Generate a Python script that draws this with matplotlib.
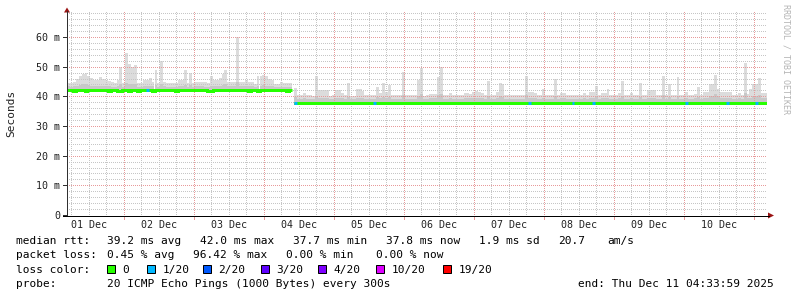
import numpy as np
import matplotlib
matplotlib.use("Agg")
import matplotlib.pyplot as plt
from matplotlib.patches import Polygon, Rectangle
from matplotlib.lines import Line2D
from matplotlib.colors import to_rgba

W, H = 797, 297
nan = float("nan")

# ---------------- data: hourly bins since Mon Dec 01 04:33:59 (ms) ----------------
smoke_top = [
    44.5, 44.5, 45.0, 46.0, 46.7, 47.5, 47.8, 47.0, 46.2, 45.6,
    45.6, 46.5, 46.0, 45.6, 45.2, 45.0, 44.5, 45.6, 50.0, 44.5,
    54.6, 51.0, 50.0, 50.6, 44.5, 44.5, 45.6, 45.6, 46.2, 45.0,
    49.0, 44.5, 51.8, 45.0, 44.5, 44.5, 44.5, 44.5, 45.6, 45.6,
    49.0, 44.5, 47.8, 44.5, 45.0, 45.0, 45.0, 45.0, 44.5, 46.7,
    45.6, 45.6, 46.2, 47.5, 49.0, 45.0, 45.0, 45.0, 60.0, 45.0,
    45.0, 45.6, 45.0, 45.0, 44.0, 46.7, 46.7, 47.2, 46.7, 46.0,
    45.6, 44.0, 44.0, 45.0, 44.5, 44.5, 44.5, nan,
    42.8, 40.4, 40.4, 41.2, 40.5, 40.5, 40.2, 46.9, 42.3, 42.3,
    42.3, 42.1, 40.2, 40.4, 42.3, 42.3, 41.2, 40.4, 44.4, 40.0,
    40.2, 42.5, 42.5, 41.8, 40.3, 40.3, 40.5, 40.6, 43.3, 41.2,
    44.4, 41.5, 43.8, 40.4, 40.6, 40.4, 40.3, 48.3, 40.3, 40.3,
    40.4, 40.4, 45.5, 49.4, 40.2, 40.5, 40.8, 40.8, 40.8, 46.6,
    49.8, 40.3, 40.3, 41.2, 40.3, 40.3, 40.3, 40.3, 41.0, 41.2,
    40.8, 41.5, 41.9, 41.3, 41.2, 40.4, 45.3, 40.4, 40.4, 41.6,
    44.4, 44.0, 40.4, 40.4, 40.4, 40.6, 40.4, 40.4, 40.5, 46.9,
    41.6, 41.6, 41.2, 40.6, 40.4, 42.6, 40.5, 40.3, 40.5, 46.0,
    40.4, 41.2, 41.2, 40.4, 40.4, 40.4, 40.4, 40.4, 40.5, 41.2,
    40.4, 41.6, 41.6, 43.5, 40.5, 41.0, 41.0, 42.4, 40.4, 40.4,
    40.4, 41.2, 45.2, 40.6, 40.6, 41.2, 40.4, 40.4, 44.6, 40.6,
    40.5, 42.1, 42.1, 42.1, 40.5, 40.5, 47.0, 40.5, 44.2, 40.4,
    40.5, 46.6, 40.3, 40.4, 41.6, 40.5, 40.4, 40.8, 43.3, 40.5,
    41.6, 41.6, 44.2, 44.2, 47.2, 42.4, 41.6, 41.6, 41.6, 41.6,
    40.5, 40.5, 41.0, 40.5, 51.3, 40.8, 42.4, 44.0, 44.0, 46.2,
    41.0, 41.0,
]

smoke_mid = [
    43.4, 43.3, 43.5, 43.6, 43.8, 44.0, 44.0, 43.8, 43.6, 43.5,
    43.5, 43.6, 43.5, 43.4, 43.4, 43.3, 43.2, 43.4, 44.2, 43.3,
    44.6, 44.2, 44.0, 44.0, 43.3, 43.2, 43.4, 43.5, 43.6, 43.4,
    43.8, 43.2, 44.0, 43.4, 43.2, 43.2, 43.2, 43.2, 43.4, 43.5,
    43.8, 43.2, 43.8, 43.3, 43.4, 43.4, 43.4, 43.3, 43.2, 43.6,
    43.5, 43.5, 43.6, 43.8, 44.0, 43.4, 43.4, 43.4, 44.8, 43.4,
    43.4, 43.5, 43.4, 43.4, 43.2, 43.6, 43.6, 43.7, 43.6, 43.5,
    43.4, 43.2, 43.2, 43.3, 43.2, 43.2, 43.2, nan,
    39.8, 39.2, 39.2, 39.4, 39.2, 39.2, 39.1, 40.2, 39.6, 39.6,
    39.6, 39.5, 39.1, 39.2, 39.6, 39.6, 39.3, 39.2, 39.9, 39.0,
    39.1, 39.6, 39.6, 39.4, 39.1, 39.1, 39.2, 39.2, 39.8, 39.3,
    39.9, 39.4, 39.8, 39.2, 39.2, 39.2, 39.1, 40.6, 39.1, 39.1,
    39.2, 39.2, 40.2, 40.8, 39.1, 39.2, 39.3, 39.3, 39.3, 40.4,
    40.8, 39.1, 39.1, 39.3, 39.1, 39.1, 39.1, 39.1, 39.3, 39.4,
    39.3, 39.5, 39.6, 39.4, 39.3, 39.2, 40.0, 39.2, 39.2, 39.5,
    40.0, 39.9, 39.2, 39.2, 39.2, 39.2, 39.2, 39.2, 39.2, 40.4,
    39.5, 39.5, 39.3, 39.2, 39.2, 39.6, 39.2, 39.1, 39.2, 40.2,
    39.2, 39.3, 39.3, 39.2, 39.2, 39.2, 39.2, 39.2, 39.2, 39.3,
    39.2, 39.5, 39.5, 39.8, 39.2, 39.3, 39.3, 39.6, 39.2, 39.2,
    39.2, 39.3, 40.0, 39.2, 39.2, 39.3, 39.2, 39.2, 39.9, 39.2,
    39.2, 39.6, 39.6, 39.6, 39.2, 39.2, 40.4, 39.2, 39.9, 39.2,
    39.2, 40.2, 39.1, 39.2, 39.5, 39.2, 39.2, 39.3, 39.8, 39.2,
    39.5, 39.5, 40.0, 40.0, 40.8, 40.0, 39.6, 39.6, 39.6, 39.6,
    39.2, 39.2, 39.3, 39.2, 41.0, 39.3, 39.6, 40.0, 40.2, 40.6,
    39.3, 39.3,
]

smoke_low = [
    41.3, 41.3, 41.3, 41.3, 41.3, 41.3, 41.3, 41.3, 41.3, 41.3,
    41.3, 41.3, 41.3, 41.3, 41.3, 41.3, 41.3, 41.3, 41.2, 41.3,
    41.3, 41.2, 41.3, 41.3, 41.2, 41.3, 41.3, 41.3, 41.3, 41.3,
    41.3, 41.3, 41.3, 41.3, 41.3, 41.3, 41.3, 41.3, 41.3, 41.3,
    41.3, 41.3, 41.3, 41.3, 41.3, 41.3, 41.3, 41.3, 41.2, 41.3,
    41.3, 41.3, 41.3, 41.3, 41.3, 41.3, 41.3, 41.3, 41.3, 41.3,
    41.3, 41.3, 41.3, 41.3, 41.3, 41.2, 41.3, 41.3, 41.3, 41.3,
    41.3, 41.3, 41.3, 41.3, 41.3, 41.2, 41.3, nan,
    37.2, 37.1, 37.1, 37.1, 37.2, 37.2, 37.1, 37.2, 37.2, 37.2,
    37.2, 37.2, 37.2, 37.2, 37.2, 37.2, 37.2, 37.2, 37.3, 37.3,
    37.3, 37.2, 37.2, 37.2, 37.2, 37.2, 37.2, 37.2, 37.2, 37.2,
    37.3, 37.2, 37.2, 37.2, 37.3, 37.2, 37.2, 37.2, 37.2, 37.2,
    37.2, 37.2, 37.2, 37.1, 37.2, 37.2, 37.2, 37.2, 37.2, 37.2,
    37.2, 37.2, 37.2, 37.2, 37.2, 37.2, 37.2, 37.2, 37.2, 37.2,
    37.1, 37.2, 37.2, 37.2, 37.2, 37.2, 37.2, 37.2, 37.2, 37.2,
    37.2, 37.2, 37.2, 37.2, 37.2, 37.2, 37.2, 37.2, 37.1, 37.2,
    37.2, 37.2, 37.2, 37.2, 37.2, 37.2, 37.2, 37.2, 37.2, 37.2,
    37.2, 37.2, 37.2, 37.2, 37.2, 37.2, 37.2, 37.2, 37.2, 37.2,
    37.2, 37.2, 37.2, 37.2, 37.2, 37.2, 37.2, 37.2, 37.1, 37.2,
    37.2, 37.2, 37.2, 37.2, 37.2, 37.2, 37.1, 37.2, 37.2, 37.3,
    37.3, 37.3, 37.3, 37.3, 37.3, 37.2, 37.2, 37.2, 37.2, 37.2,
    37.2, 37.2, 37.2, 37.2, 37.2, 37.2, 37.2, 37.2, 37.2, 37.2,
    37.2, 37.1, 37.2, 37.2, 37.2, 37.1, 37.2, 37.4, 37.4, 37.2,
    37.2, 37.2, 37.2, 37.2, 37.2, 37.2, 37.2, 37.2, 37.2, 37.2,
    37.2, 37.2,
]

median_rtt = [
    42.0, 42.0, 41.9, 42.0, 42.0, 42.0, 41.9, 42.0, 42.0, 42.0,
    42.0, 42.0, 42.0, 42.0, 41.9, 42.0, 42.0, 41.9, 41.8, 42.0,
    42.0, 41.8, 42.0, 42.0, 41.8, 42.0, 42.0, 42.0, 42.0, 41.9,
    42.0, 42.0, 42.0, 42.0, 42.0, 42.0, 42.0, 41.9, 42.0, 42.0,
    42.0, 42.0, 42.0, 42.0, 42.0, 42.0, 42.0, 42.0, 41.8, 41.9,
    42.0, 42.0, 42.0, 42.0, 42.0, 42.0, 42.0, 42.0, 42.0, 42.0,
    42.0, 42.0, 41.9, 42.0, 42.0, 41.8, 42.0, 42.0, 42.0, 42.0,
    42.0, 42.0, 42.0, 42.0, 42.0, 41.8, 42.0, nan,
    37.7, 37.7, 37.7, 37.7, 37.7, 37.7, 37.7, 37.7, 37.8, 37.8,
    37.8, 37.8, 37.8, 37.8, 37.8, 37.8, 37.8, 37.8, 37.9, 37.9,
    37.9, 37.8, 37.8, 37.8, 37.8, 37.8, 37.8, 37.8, 37.8, 37.8,
    37.9, 37.8, 37.8, 37.8, 37.9, 37.8, 37.8, 37.8, 37.8, 37.8,
    37.8, 37.8, 37.8, 37.7, 37.8, 37.8, 37.8, 37.8, 37.8, 37.8,
    37.8, 37.8, 37.8, 37.8, 37.8, 37.8, 37.8, 37.8, 37.8, 37.8,
    37.7, 37.8, 37.8, 37.8, 37.8, 37.8, 37.8, 37.8, 37.8, 37.8,
    37.8, 37.8, 37.8, 37.8, 37.8, 37.8, 37.8, 37.8, 37.7, 37.8,
    37.8, 37.8, 37.8, 37.8, 37.8, 37.8, 37.8, 37.8, 37.8, 37.8,
    37.8, 37.8, 37.8, 37.8, 37.8, 37.8, 37.8, 37.8, 37.8, 37.8,
    37.8, 37.8, 37.8, 37.8, 37.8, 37.8, 37.8, 37.8, 37.7, 37.8,
    37.8, 37.8, 37.8, 37.8, 37.8, 37.8, 37.7, 37.8, 37.8, 37.9,
    37.9, 37.9, 37.9, 37.9, 37.9, 37.8, 37.8, 37.8, 37.8, 37.8,
    37.8, 37.8, 37.8, 37.8, 37.8, 37.8, 37.8, 37.8, 37.8, 37.8,
    37.8, 37.7, 37.8, 37.8, 37.8, 37.7, 37.8, 37.9, 37.9, 37.8,
    37.8, 37.8, 37.8, 37.8, 37.8, 37.8, 37.8, 37.8, 37.8, 37.8,
    37.8, 37.8,
]

loss_hours = [27, 78, 105, 158, 173, 180, 212, 226, 236]
loss_pings = [1, 1, 1, 1, 1, 1, 1, 1, 1]

day_labels = ["01 Dec", "02 Dec", "03 Dec", "04 Dec", "05 Dec",
              "06 Dec", "07 Dec", "08 Dec", "09 Dec", "10 Dec"]
y_ticks = [0, 10, 20, 30, 40, 50, 60]
y_tick_labels = ["0", "10 m", "20 m", "30 m", "40 m", "50 m", "60 m"]

loss_levels = [0, 1, 2, 3, 4, 10, 19]
loss_level_labels = ["0", "1/20", "2/20", "3/20", "4/20", "10/20", "19/20"]
loss_colors = ["#26ff00", "#00b8ff", "#0059ff", "#5e00ff", "#7e00ff", "#dd00ff", "#ff0000"]

median_row = ["median rtt:", "39.2 ms avg", "42.0 ms max", "37.7 ms min",
              "37.8 ms now", "1.9 ms sd", "20.7", "am/s"]
loss_row = ["packet loss:", "0.45 % avg", "96.42 % max", "0.00 % min", "0.00 % now"]
probe_label = "probe:"
probe_text = "20 ICMP Echo Pings (1000 Bytes) every 300s"
end_text = "end: Thu Dec 11 04:33:59 2025"
loss_color_label = "loss color:"
watermark = "RRDTOOL / TOBI OETIKER"

SPAN_HOURS = 240
FIRST_MIDNIGHT = 19 + 26 / 60 + 1 / 3600   # hours from start to Dec 02 00:00

# ---------------- figure ----------------
plt.rcParams["font.family"] = ["DejaVu Sans Mono"]


def fx(x):
    return x / W


def fy(y):
    return 1 - y / H


fig = plt.figure(figsize=(W / 100, H / 100), dpi=100)
fig.patch.set_facecolor("white")

AX_W, AX_H = 700, 203
PX_PER_MS = 178 / 60.0
YMAX = AX_H / PX_PER_MS
ax = fig.add_axes([fx(67), fy(215), AX_W / W, AX_H / H])
ax.set_xlim(0, SPAN_HOURS)
ax.set_ylim(0, YMAX)
ax.patch.set_alpha(0)
for s in ax.spines.values():
    s.set_visible(False)

hours = np.arange(SPAN_HOURS)
top = np.array(smoke_top, dtype=float)
mid = np.array(smoke_mid, dtype=float)
low = np.array(smoke_low, dtype=float)
med = np.array(median_rtt, dtype=float)
ok = np.isfinite(top)

ax.bar(hours[ok], (top - low)[ok], bottom=low[ok], width=1.0, align="edge",
       color="#dcdcdc", linewidth=0, antialiased=False, zorder=1)
ax.bar(hours[ok], (mid - low)[ok], bottom=low[ok], width=1.0, align="edge",
       color="#c8c8c8", linewidth=0, antialiased=False, zorder=2)
ax.bar(hours[ok], (med - low)[ok], bottom=low[ok], width=1.0, align="edge",
       color="#a0a0a0", linewidth=0, antialiased=False, zorder=2)

# grid: crisp 1px dotted lines rendered as a pixel overlay
MINOR_C = to_rgba("#c6c6c6")
MAJOR_C = to_rgba("#e89a9a")
grid = np.zeros((AX_H, AX_W, 4))
cols = np.arange(AX_W)
rows = np.arange(AX_H)
for yv in np.arange(2, YMAX, 2):
    r = int(round(AX_H - yv * PX_PER_MS))
    if 0 <= r < AX_H:
        major = abs(yv % 10) < 1e-6
        grid[r, cols % 2 == 0] = MAJOR_C if major else MINOR_C
t = FIRST_MIDNIGHT - 18
while t < SPAN_HOURS:
    if t > 0.5:
        c = int(round(t * AX_W / SPAN_HOURS))
        rm = (t - FIRST_MIDNIGHT) % 24
        major = rm < 1e-6 or abs(rm - 24) < 1e-6
        if 0 <= c < AX_W:
            col_c = MAJOR_C if major else MINOR_C
            sel = rows % 2 == 0
            if major:
                grid[sel, c] = col_c
            else:
                keep = grid[:, c, 3] == 0
                grid[sel & keep, c] = col_c
    t += 6
ax.imshow(grid, extent=(0, SPAN_HOURS, 0, YMAX), aspect="auto",
          interpolation="nearest", zorder=3)
ax.set_xlim(0, SPAN_HOURS)
ax.set_ylim(0, YMAX)

# median line coloured by loss
x_step = np.arange(SPAN_HOURS + 1)
y_step = np.append(med, med[-1])
ax.step(x_step, y_step, where="post", color=loss_colors[0], lw=2.16,
        solid_capstyle="butt", solid_joinstyle="miter", zorder=4)
for h, n in zip(loss_hours, loss_pings):
    idx = max(i for i, lv in enumerate(loss_levels) if n >= lv)
    ax.plot([h, h + 1], [med[h], med[h]], color=loss_colors[idx], lw=2.16,
            solid_capstyle="butt", zorder=5)

# ticks
ax.set_yticks(y_ticks, y_tick_labels)
ax.tick_params(axis="y", length=0, pad=5.0, labelsize=7.2, labelcolor="#222222")
noon = [FIRST_MIDNIGHT - 12 + 24 * k for k in range(len(day_labels))]
ax.set_xticks(noon, day_labels)
ax.tick_params(axis="x", length=0, pad=3.5, labelsize=7.2, labelcolor="#222222")

# axis lines and arrows
fig.add_artist(Line2D([fx(67), fx(67)], [fy(215.5), fy(11)], color="#303030", lw=0.72))
fig.add_artist(Line2D([fx(63), fx(769)], [fy(215.5), fy(215.5)], color="#000000", lw=0.72))
for k in range(len(day_labels) + 1):
    tt = FIRST_MIDNIGHT + 24 * (k - 1)
    if 0 < tt <= SPAN_HOURS:
        xp = 67 + tt * AX_W / SPAN_HOURS
        fig.add_artist(Line2D([fx(xp), fx(xp)], [fy(216.5), fy(219)], color="#e89a9a", lw=0.72))
for yv in y_ticks:
    yp = 215 - yv * PX_PER_MS
    fig.add_artist(Line2D([fx(63), fx(67)], [fy(yp), fy(yp)], color="#303030", lw=0.72))
arrow_c = "#9b1414"
fig.add_artist(Polygon([[fx(64), fy(12.5)], [fx(70), fy(12.5)], [fx(67), fy(7.5)]],
                       closed=True, color=arrow_c, lw=0))
fig.add_artist(Polygon([[fx(768), fy(212.5)], [fx(768), fy(218.5)], [fx(774), fy(215.5)]],
                       closed=True, color=arrow_c, lw=0))

# labels
fig.text(fx(11), fy(113.5), "Seconds", rotation=90, ha="center", va="center",
         fontsize=8, color="#222222")
fig.text(fx(786), fy(4), watermark, rotation=270, ha="center", va="top",
         fontsize=6, color="#b4b4b4")

# legend rows
FS = 8
row_y = [241.2, 255.4, 269.6, 283.6]
med_x = [16, 107, 200, 293, 386, 479, 558, 607]
for txt, xp in zip(median_row, med_x):
    fig.text(fx(xp), fy(row_y[0]), txt, ha="left", va="center", fontsize=FS, color="black")
loss_x = [16, 107, 193, 286, 376]
for txt, xp in zip(loss_row, loss_x):
    fig.text(fx(xp), fy(row_y[1]), txt, ha="left", va="center", fontsize=FS, color="black")
fig.text(fx(16), fy(row_y[2]), loss_color_label, ha="left", va="center", fontsize=FS, color="black")
sq_x = [107, 147, 203, 261, 318, 376, 443]
for lab, col, xp in zip(loss_level_labels, loss_colors, sq_x):
    fig.add_artist(Rectangle((fx(xp), fy(273.3)), 8 / W, 8 / H, facecolor=col,
                             edgecolor="black", lw=0.72))
    fig.text(fx(xp + 15.5), fy(row_y[2]), lab, ha="left", va="center", fontsize=FS, color="black")
fig.text(fx(16), fy(row_y[3]), probe_label, ha="left", va="center", fontsize=FS, color="black")
fig.text(fx(107), fy(row_y[3]), probe_text, ha="left", va="center", fontsize=FS, color="black")
fig.text(fx(578), fy(row_y[3]), end_text, ha="left", va="center", fontsize=FS, color="black")

fig.savefig("out.png", dpi=100)
